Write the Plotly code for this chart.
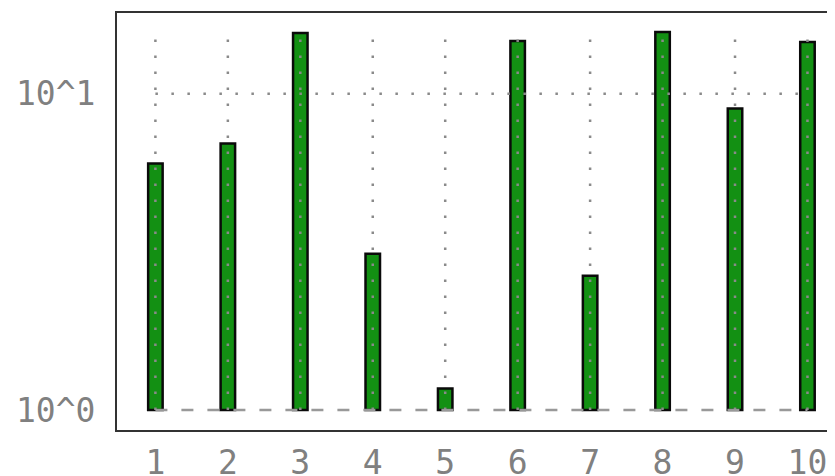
import plotly.graph_objects as go

categories = [1, 2, 3, 4, 5, 6, 7, 8, 9, 10]
values = [6.02, 6.96, 15.55, 3.12, 1.17, 14.68, 2.66, 15.67, 8.97, 14.57]
y_tick_vals = [1, 10]
y_tick_text = ["10^0", "10^1"]

BAR_BASE = 1
GRID_TOP = 15.6
GRID_COLOR = "#8a8a8a"
FONT = dict(family="DejaVu Sans Mono", size=33, color="#808080")

fig = go.Figure()

# bars start at 10^0; plotly draws them from base to base + y
fig.add_trace(go.Bar(
    x=categories, y=[v - BAR_BASE for v in values], base=BAR_BASE, width=0.2,
    marker=dict(color="#139013", line=dict(color="#0a0a0a", width=2.5)),
    showlegend=False, hoverinfo="skip",
))

# vertical dotted grid, drawn over the bars
vx, vy = [], []
for c in categories:
    vx += [c, c, None]
    vy += [BAR_BASE, GRID_TOP, None]
fig.add_trace(go.Scatter(
    x=vx, y=vy, mode="lines",
    line=dict(color=GRID_COLOR, width=2.5, dash="2.5px,13.5px"),
    showlegend=False, hoverinfo="skip",
))

# horizontal grid: dashed at 10^0, dotted at 10^1
fig.add_trace(go.Scatter(
    x=[categories[0], categories[-1]], y=[y_tick_vals[0]] * 2, mode="lines",
    line=dict(color="#999999", width=2.5, dash="12px,14px"),
    showlegend=False, hoverinfo="skip",
))
fig.add_trace(go.Scatter(
    x=[categories[0], categories[-1]], y=[y_tick_vals[1]] * 2, mode="lines",
    line=dict(color=GRID_COLOR, width=2.5, dash="2.5px,13.5px"),
    showlegend=False, hoverinfo="skip",
))

# page body adds ~8px, so the figure is a bit smaller than the window
fig.update_layout(
    width=827, height=468,
    margin=dict(l=109, r=0, t=5, b=46),
    plot_bgcolor="white", paper_bgcolor="white",
    font=FONT,
    xaxis=dict(
        range=[0.47, 10.38], tickvals=categories, ticktext=[str(c) for c in categories],
        showgrid=False, zeroline=False, showline=True, mirror=True, automargin=False,
        linecolor="#333333", linewidth=2, ticks="", ticklabelstandoff=2,
    ),
    yaxis=dict(
        type="log", range=[-0.063, 1.255], tickvals=y_tick_vals, ticktext=y_tick_text,
        showgrid=False, zeroline=False, showline=True, mirror=False, automargin=False,
        linecolor="#333333", linewidth=2, ticks="", ticklabelstandoff=13,
    ),
)

fig.write_html("out.html")
